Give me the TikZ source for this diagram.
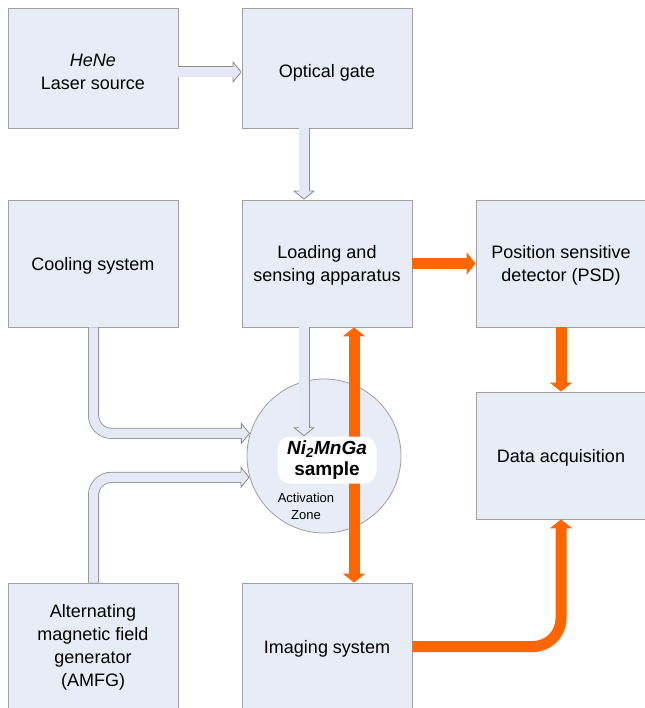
\documentclass[tikz,border=0pt]{standalone}
\usepackage{fontspec}
\setmainfont{Liberation Sans}
\usetikzlibrary{arrows.meta}
\definecolor{boxfill}{RGB}{232,236,246}
\definecolor{boxline}{RGB}{160,160,160}
\definecolor{arrfill}{RGB}{228,233,245}
\definecolor{arrline}{RGB}{140,140,140}
\definecolor{orng}{RGB}{255,102,0}
\pgfdeclarelayer{bg}
\pgfsetlayers{bg,main}
\newcommand{\boxtext}[2]{\raisebox{#1}[\height][\depth]{\begin{tabular}{@{}c@{}}#2\end{tabular}}}
\begin{document}
\begin{tikzpicture}[x=1pt,y=-1pt,
  box/.style={draw=boxline, fill=boxfill, line width=0.8pt, minimum width=170pt, minimum height=127pt, inner sep=0pt, align=center, font=\fontsize{18}{23}\selectfont},
  lout/.style={draw=arrline, line width=11pt, -{Triangle[open, fill=arrfill, line width=0.8pt, length=9pt, width=22pt]}},
  lin/.style={draw=arrfill, line width=9.4pt, shorten >=5.5pt},
  oarrow/.style={draw=orng, line width=11pt, -{Triangle[length=9pt, width=22pt]}},
  otip/.tip={Triangle[length=9pt, width=22pt]}
]
\useasboundingbox (0,0) rectangle (644,708);
% boxes
\node[box, minimum height=120pt] (laser) at (93,68) {\boxtext{-5pt}{\textit{HeNe}\\Laser source}};
\node[box, minimum height=120pt] (gate) at (327,68) {\boxtext{-5pt}{Optical gate}};
\node[box] (cooling) at (93,263.5) {\boxtext{-2pt}{Cooling system}};
\node[box] (loading) at (327,263.5) {\boxtext{-2pt}{Loading and\\sensing apparatus}};
\node[box] (psd) at (561,263.5) {\boxtext{-2pt}{Position sensitive\\detector (PSD)}};
\node[box] (daq) at (561,455.5) {\boxtext{-2pt}{Data acquisition}};
\node[box] (amfg) at (93,646.5) {\boxtext{-1pt}{Alternating\\magnetic field\\generator\\(AMFG)}};
\node[box] (imaging) at (327,646.5) {\boxtext{-2pt}{Imaging system}};
% activation zone (background)
\begin{pgfonlayer}{bg}
\node[circle, draw=boxline, fill=boxfill, line width=0.8pt, minimum size=154pt, inner sep=0pt] (circ) at (324,456) {};
\coordinate (ox) at (354,0);
\draw[orng, line width=11pt, otip-otip] (loading.south -| ox) -- (imaging.north -| ox);
\end{pgfonlayer}
\node[fill=white, rounded corners=13pt, minimum width=99pt, minimum height=47pt, inner sep=0pt, align=center, font=\fontsize{19}{21}\selectfont\bfseries] (sample) at (327,460) {\textit{Ni\textsubscript{2}MnGa}\\sample};
\node[align=center, inner sep=0pt, font=\fontsize{13}{17}\selectfont] (act) at (306,506) {Activation\\Zone};
% light arrows
\coordinate (la) at (0,72);
\coordinate (gx) at (304,0);
\coordinate (cx) at (93.5,0);
\draw[lout] (laser.east |- la) -- (gate.west |- la);
\draw[lin] (laser.east |- la) -- (gate.west |- la);
\draw[lout] (gate.south -| gx) -- (loading.north -| gx);
\draw[lin] (gate.south -| gx) -- (loading.north -| gx);
\draw[lout] (loading.south -| gx) -- (sample.north -| gx);
\draw[lin] (loading.south -| gx) -- (sample.north -| gx);
\draw[lout, rounded corners=18pt] (cooling.south -| cx) |- (circ.163);
\draw[lin, rounded corners=18pt] (cooling.south -| cx) |- (circ.163);
\draw[lout, rounded corners=18pt] (amfg.north -| cx) |- (circ.196);
\draw[lin, rounded corners=18pt] (amfg.north -| cx) |- (circ.196);
% orange arrows
\draw[oarrow] (loading.east) -- (psd.west);
\draw[oarrow] (psd.south) -- (daq.north);
\draw[oarrow, rounded corners=28pt] (imaging.east) -| (daq.south);
\end{tikzpicture}
\end{document}
